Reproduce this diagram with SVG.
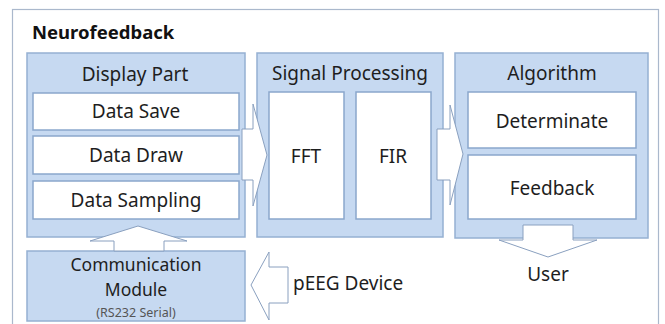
<svg xmlns="http://www.w3.org/2000/svg" width="665" height="324" viewBox="0 0 665 324">
<style>
text{font-family:"Noto Sans","Open Sans","Liberation Sans",sans-serif;fill:#1e1e1e;text-anchor:middle}
.panel{fill:#c6d9f1;stroke:#95b0d2;stroke-width:1.5}
.box{fill:#ffffff;stroke:#8aa7cc;stroke-width:1.5}
.arrow{fill:#ffffff;stroke:#8aa0bf;stroke-width:1}
.t{font-size:19px}
.c{font-size:17.5px}
</style>
<rect width="665" height="324" fill="#ffffff"/>
<rect x="12.5" y="9.5" width="646" height="330" fill="#ffffff" stroke="#aab8cc" stroke-width="1.2"/>
<text x="32" y="39" style="font-size:18.5px;font-weight:bold;text-anchor:start;fill:#111">Neurofeedback</text>

<g id="display-part">
<rect class="panel" x="27" y="53" width="218" height="184"/>
<text class="t" x="135" y="81">Display Part</text>
<g id="data-save"><rect class="box" x="33" y="93" width="206" height="37"/><text class="t" x="136" y="118">Data Save</text></g>
<g id="data-draw"><rect class="box" x="33" y="136" width="206" height="38"/><text class="t" x="136" y="162">Data Draw</text></g>
<g id="data-sampling"><rect class="box" x="33" y="181" width="206" height="38"/><text class="t" x="136" y="207">Data Sampling</text></g>
</g>

<g id="signal-processing">
<rect class="panel" x="257" y="53" width="186" height="184"/>
<text class="t" x="350" y="80">Signal Processing</text>
<g id="fft"><rect class="box" x="269" y="92" width="75" height="127"/><text class="t" x="306" y="163">FFT</text></g>
<g id="fir"><rect class="box" x="356" y="92" width="75" height="127"/><text class="t" x="393" y="163">FIR</text></g>
</g>

<g id="algorithm">
<rect class="panel" x="455" y="53" width="193" height="185"/>
<text class="t" x="552" y="80">Algorithm</text>
<g id="determinate"><rect class="box" x="468" y="92" width="168" height="56"/><text class="t" x="552" y="128">Determinate</text></g>
<g id="feedback"><rect class="box" x="468" y="155" width="168" height="64"/><text class="t" x="552" y="195">Feedback</text></g>
</g>

<g id="communication-module">
<rect class="panel" x="27" y="251" width="218" height="70"/>
<text class="c" x="136" y="271">Communication</text>
<text class="c" x="136" y="295.5">Module</text>
<text x="136" y="316.5" style="font-size:12.5px;fill:#555">(RS232 Serial)</text>
</g>

<g id="peeg-device">
<text class="t" x="293" y="290" style="text-anchor:start">pEEG Device</text>
</g>

<g id="user">
<text class="t" x="548" y="281">User</text>
</g>

<g id="connectors">
<polygon class="arrow" points="242,129 253,129 253,104 267,155 253,206 253,180 242,180"/>
<polygon class="arrow" points="437,129 450,129 450,105 463,154 450,205 450,180 437,180"/>
<polygon class="arrow" points="114,251 114,241 90,241 138,226 187,241 164,241 164,251"/>
<polygon class="arrow" points="523,225 573,225 573,240 597,240 548,257 499,240 523,240"/>
<polygon class="arrow" points="251,285 269,252 269,267 288,267 288,303 269,303 269,320"/>
</g>
</svg>
